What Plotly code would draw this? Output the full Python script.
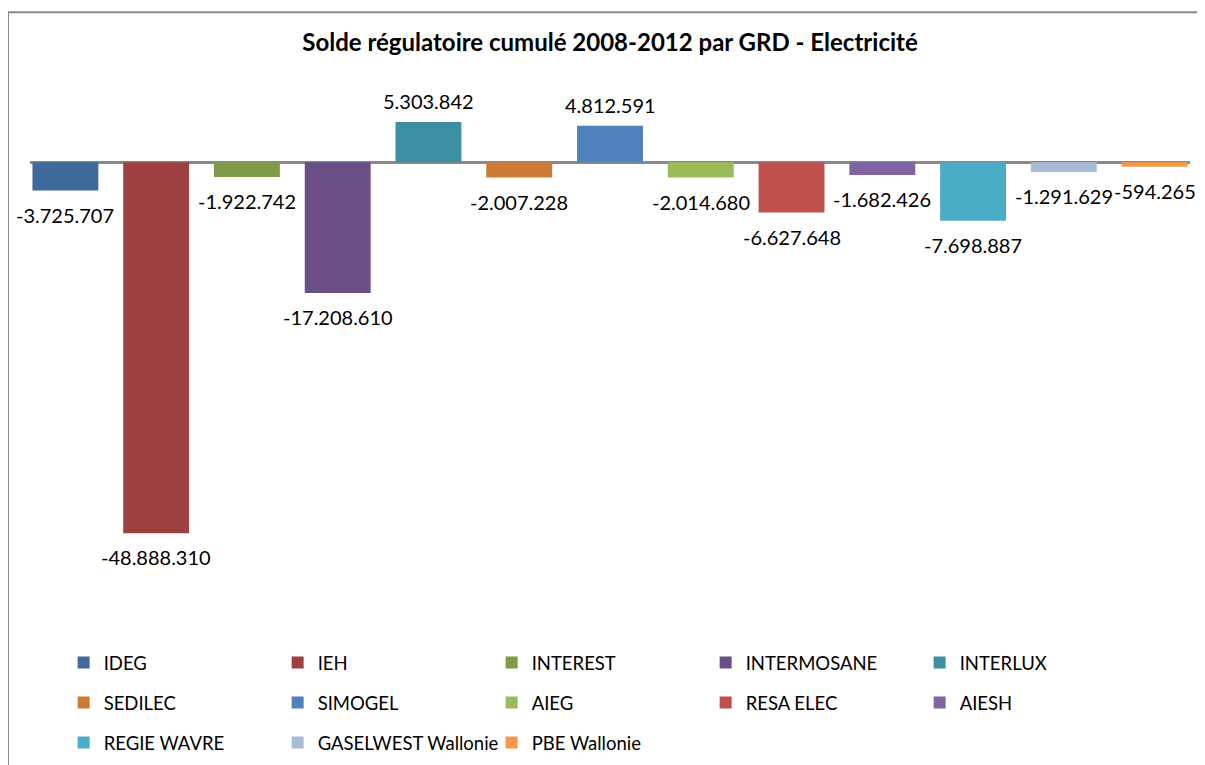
import plotly.graph_objects as go

categories = ["IDEG", "IEH", "INTEREST", "INTERMOSANE", "INTERLUX",
              "SEDILEC", "SIMOGEL", "AIEG", "RESA ELEC", "AIESH",
              "REGIE WAVRE", "GASELWEST Wallonie", "PBE Wallonie"]
values = [-3725707, -48888310, -1922742, -17208610, 5303842,
          -2007228, 4812591, -2014680, -6627648, -1682426,
          -7698887, -1291629, -594265]
colors = ["#3E6A9C", "#9E403F", "#7E9A48", "#6A4F86", "#3D8FA3",
          "#CD7A37", "#4F81BD", "#9BBB59", "#C0504D", "#8064A2",
          "#4BACC6", "#AABAD7", "#F79646"]
title_text = "Solde régulatoire cumulé 2008-2012 par GRD - Electricité"

FONT = "Lato"
W, H = 1205, 765
OFF = 8  # page body margin offset

def fmt(v):
    return f"{v:,}".replace(",", ".")

fig = go.Figure()
legend_ids = ["legend", "legend2", "legend3"]
for i, (c, v, col) in enumerate(zip(categories, values, colors)):
    fig.add_trace(go.Bar(
        x=[c], y=[v], name=c, marker=dict(color=col, line=dict(width=0)),
        width=0.726, legend=legend_ids[i // 5], hoverinfo="skip",
    ))

annotations = []
for c, v in zip(categories, values):
    annotations.append(dict(
        x=c, y=v, xref="x", yref="y", text=fmt(v), showarrow=False,
        yanchor="middle", xanchor="center",
        yshift=21 if v > 0 else -24,
        font=dict(family=FONT, size=20, color="#000000"),
    ))

legend_common = dict(
    orientation="h", xanchor="left", yanchor="middle",
    font=dict(family=FONT, size=18.5, color="#000000"),
    entrywidth=169, entrywidthmode="pixels",
    bgcolor="rgba(0,0,0,0)", itemclick=False, itemdoubleclick=False,
    traceorder="normal",
)

# plot area in page coords: x 30..1190, y 100..600
L, R_, T, B = 30 - OFF, W - (1190 - OFF), 100 - OFF, H - (600 - OFF)
PW, PH = 1160, 500

fig.update_layout(
    width=W, height=H,
    margin=dict(l=L, r=R_, t=T, b=B, pad=0, autoexpand=False),
    paper_bgcolor="#FFFFFF", plot_bgcolor="#FFFFFF",
    barmode="overlay",
    showlegend=True,
    title=dict(text="<b>" + title_text + "</b>", x=0.5, xref="paper",
               xanchor="center", y=1 - (43 - OFF) / H, yref="container", yanchor="middle",
               font=dict(family=FONT, size=24, color="#000000")),
    xaxis=dict(type="category", categoryorder="array", categoryarray=categories,
               range=[-0.39, 12.39], showticklabels=False, showgrid=False,
               zeroline=False, showline=False, ticks="", fixedrange=True),
    yaxis=dict(range=[-57.67e6, 8.21e6], showticklabels=False, showgrid=False,
               zeroline=True, zerolinecolor="#898989", zerolinewidth=3,
               showline=False, ticks="", fixedrange=True),
    legend=dict(legend_common, x=0.029, y=(600 - 663) / PH),
    legend2=dict(legend_common, x=0.029, y=(600 - 703) / PH),
    legend3=dict(legend_common, x=0.029, y=(600 - 743) / PH),
    annotations=annotations,
    shapes=[
        dict(type="line", xref="paper", yref="paper",
             x0=(8 - 30) / PW, x1=(8 - 30) / PW, y0=-1, y1=(600 - 12.3) / PH,
             line=dict(color="#888888", width=2)),
        dict(type="line", xref="paper", yref="paper",
             x0=(8 - 30) / PW, x1=1.1, y0=(600 - 12.3) / PH, y1=(600 - 12.3) / PH,
             line=dict(color="#888888", width=2)),
    ],
)

fig.write_html("out.html")
